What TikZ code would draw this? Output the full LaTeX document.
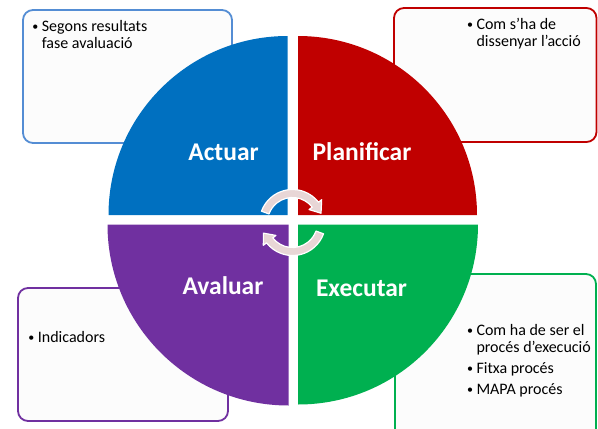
\documentclass[tikz,border=0pt]{standalone}
\usepackage{fontspec}
\setmainfont{Carlito}
\usepackage{tikz}
\usetikzlibrary{calc}
\definecolor{blau}{RGB}{0,112,192}
\definecolor{vermell}{RGB}{192,0,0}
\definecolor{lila}{RGB}{112,48,160}
\definecolor{verd}{RGB}{0,176,80}
\definecolor{blauclar}{RGB}{84,141,212}
\definecolor{fletxa}{RGB}{232,214,214}
\definecolor{fons}{RGB}{252,252,252}
\newcommand{\bul}{\makebox[9.5pt][l]{\raisebox{1pt}{\scalebox{0.75}{\textbullet}}}}

\begin{document}
\begin{tikzpicture}[x=1pt, y=-1pt,
				caixa/.style = {fill=fons, line width=1.8pt, rounded corners=10pt},
				etiq/.style = {anchor=base, inner sep=0pt, text=white,
					font=\fontsize{25.5}{30}\selectfont\bfseries},
				item/.style = {anchor=base west, inner sep=0pt,
					font=\fontsize{16}{17}\selectfont},
				roda/.style = {fill=fletxa, draw=white, line width=1.2pt, line join=round}]
				
				\useasboundingbox (0,0) rectangle (598,429);
				\clip (0,0) rectangle (598,429);
				
				% Boxes
				\draw[caixa, draw=blauclar] (23,10) rectangle (232,143);
				\draw[caixa, draw=vermell] (394,8) rectangle (596.5,142);
				\draw[caixa, draw=lila] (18,288) rectangle (228,421);
				\draw[caixa, draw=verd] (395,274) rectangle (596,445);
				
				% Box texts
				\node[item] (act1) at (32.2,31.7) {\bul Segons resultats};
				\node[item] (act2) at (41.7,48.3) {fase avaluació};
				\node[item] (pla1) at (466.8,29.3) {\bul Com s’ha de};
				\node[item] (pla2) at (476.3,46.7) {dissenyar l’acció};
				\node[item] (ava1) at (28.2,342.3) {\bul Indicadors};
				\node[item] (exe1) at (466.8,335.7) {\bul Com ha de ser el};
				\node[item] (exe2) at (476.3,352.3) {procés d’execució};
				\node[item] (exe3) at (466.8,373.3) {\bul Fitxa procés};
				\node[item] (exe4) at (466.8,394) {\bul MAPA procés};
				
				% Quadrants
				\fill[blau] (287.5,215) -- ++(180:179) arc[start angle=180, end angle=270, radius=179] -- cycle;
				\fill[vermell] (298,215) -- ++(270:179) arc[start angle=270, end angle=360, radius=179] -- cycle;
				\fill[verd] (298,224.5) -- ++(0:180) arc[start angle=0, end angle=90, radius=180] -- cycle;
				\fill[lila] (288.5,224.5) -- ++(90:181) arc[start angle=90, end angle=180, radius=181] -- cycle;
				
				% Circular arrows
				\coordinate (C) at (292.5,222.5);
				\draw[roda] ($(C)+(200:33)$) arc[start angle=200, end angle=322, radius=33]
					-- ($(C)+(322:37)$) -- ($(C)+(342:30)$) -- ($(C)+(322:21)$)
					-- ($(C)+(322:25)$) arc[start angle=322, end angle=200, radius=25] -- cycle;
				\draw[roda] ($(C)+(20:33)$) arc[start angle=20, end angle=142, radius=33]
					-- ($(C)+(142:37)$) -- ($(C)+(160:31)$) -- ($(C)+(142:21)$)
					-- ($(C)+(142:25)$) arc[start angle=142, end angle=20, radius=25] -- cycle;
				
				% Labels
				\node[etiq] (actuar) at (223.5,160) {Actuar};
				\node[etiq] (planificar) at (362,160) {Planificar};
				\node[etiq] (avaluar) at (223,294.5) {Avaluar};
				\node[etiq] (executar) at (361.5,296) {Executar};
				
			\end{tikzpicture}
\end{document}
